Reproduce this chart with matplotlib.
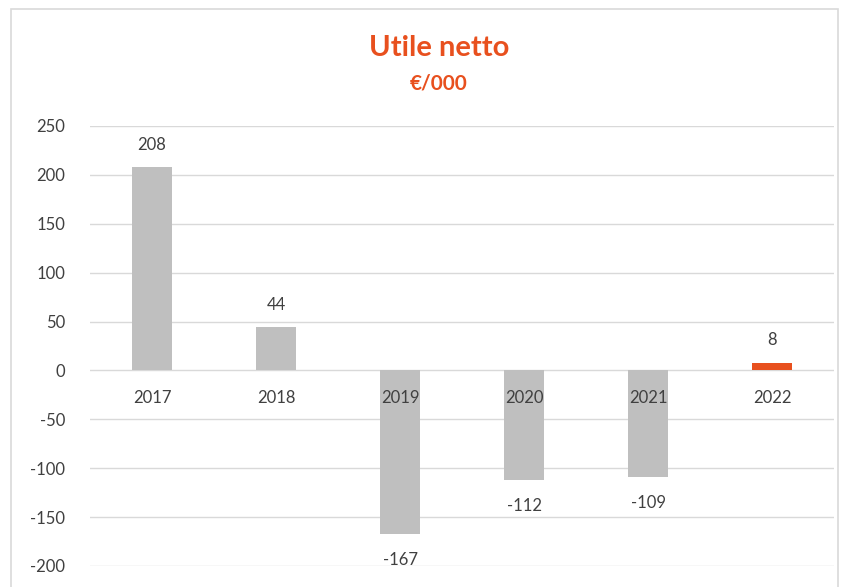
import matplotlib
matplotlib.use("Agg")
import matplotlib.pyplot as plt
from matplotlib.patches import Rectangle

years = ["2017", "2018", "2019", "2020", "2021", "2022"]
values = [208, 44, -167, -112, -109, 8]
bar_colors = ["#bfbfbf", "#bfbfbf", "#bfbfbf", "#bfbfbf", "#bfbfbf", "#e8501e"]
yticks = [-200, -150, -100, -50, 0, 50, 100, 150, 200, 250]

plt.rcParams['font.family'] = ['Lato', 'DejaVu Sans']
txt = "#404040"

fig = plt.figure(figsize=(8.41, 5.87), dpi=100)
fig.patch.set_facecolor("white")
fig.patches.append(Rectangle((11/841, -0.05), (838-11)/841, 1.05 - 9/587,
                             transform=fig.transFigure, fill=False,
                             edgecolor="#d9d9d9", linewidth=1.2))

ax = fig.add_axes([90/841, (587-566)/587, (834-90)/841, (566-126)/587])
x = list(range(len(years)))
ax.bar(x, values, width=0.32, color=bar_colors, zorder=2)
ax.set_xlim(-0.5, len(years) - 0.5)
ax.set_ylim(-200, 250)
ax.set_yticks(yticks)
ax.set_yticklabels([str(v) for v in yticks], fontsize=12, color=txt)
ax.set_xticks([])
ax.tick_params(axis='y', length=0, pad=18)
ax.grid(axis='y', color="#d9d9d9", linewidth=1, zorder=0)
for s in ax.spines.values():
    s.set_visible(False)

for xi, v, yr in zip(x, values, years):
    ax.annotate(yr, (xi, 0), xytext=(0, -20), textcoords='offset points',
                ha='center', va='center', fontsize=12, color=txt, zorder=5)
    off = 16 if v >= 0 else -19
    ax.annotate(str(v), (xi, v), xytext=(0, off), textcoords='offset points',
                ha='center', va='center', fontsize=12, color=txt, zorder=5)

fig.text(439/841, 1 - 48/587, "Utile netto", ha='center', va='center',
         fontsize=21, fontweight='bold', color="#e8501e")
fig.text(439/841, 1 - 83/587, "€/000", ha='center', va='center',
         fontsize=15, fontweight='bold', color="#e8501e")

fig.savefig("out.png", dpi=100)
